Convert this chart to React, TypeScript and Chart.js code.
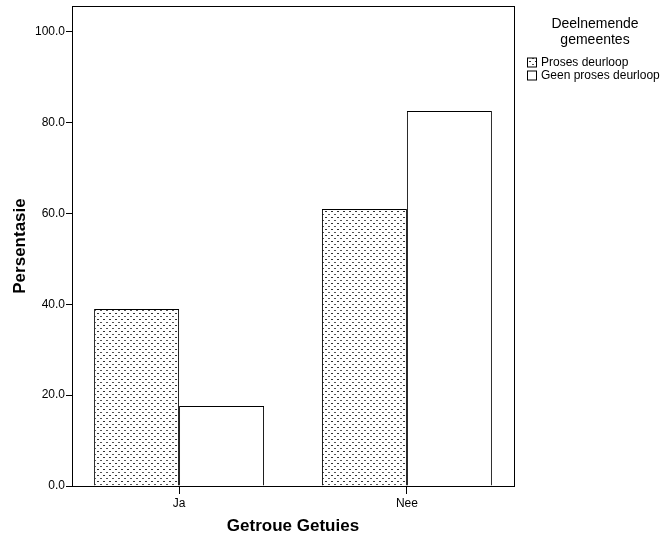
import React, { useEffect, useRef } from "react";
import { Chart, registerables } from "chart.js";

Chart.register(...registerables);

const categories = ["Ja", "Nee"];
const seriesNames = ["Proses deurloop", "Geen proses deurloop"];
const prosesDeurloop = [39.0, 61.0];
const geenProsesDeurloop = [17.6, 82.6];
const yTicks = [0, 20, 40, 60, 80, 100];
const legendTitle = ["Deelnemende", "gemeentes"];
const xTitle = "Getroue Getuies";
const yTitle = "Persentasie";

const FONT = "'Liberation Sans', Arial, sans-serif";

function makeDots(): CanvasPattern | string {
  const c = document.createElement("canvas");
  c.width = 6;
  c.height = 6;
  const g = c.getContext("2d");
  if (!g) return "#fff";
  g.fillStyle = "#fff";
  g.fillRect(0, 0, 6, 6);
  g.fillStyle = "#333";
  g.fillRect(1, 1, 2, 1);
  g.fillStyle = "#555";
  g.fillRect(4, 4, 2, 1);
  return g.createPattern(c, "repeat") || "#fff";
}

const framePlugin = {
  id: "frame",
  afterDatasetsDraw(chart: any) {
    const { ctx, chartArea } = chart;
    ctx.save();
    ctx.strokeStyle = "#000";
    ctx.lineWidth = 1;
    ctx.strokeRect(
      Math.round(chartArea.left) + 0.5,
      Math.round(chartArea.top) + 0.5,
      Math.round(chartArea.right - chartArea.left),
      Math.round(chartArea.bottom - chartArea.top)
    );
    ctx.restore();
  },
};

const legendPlugin = {
  id: "customLegend",
  afterDraw(chart: any) {
    const { ctx } = chart;
    ctx.save();
    ctx.fillStyle = "#000";
    ctx.textAlign = "center";
    ctx.textBaseline = "middle";
    ctx.font = `14px ${FONT}`;
    legendTitle.forEach((t, i) => ctx.fillText(t, 595, 24 + i * 16));
    ctx.font = `12px ${FONT}`;
    ctx.textAlign = "left";
    chart.data.datasets.forEach((ds: any, i: number) => {
      const cy = 62 + i * 13;
      ctx.fillStyle = ds.backgroundColor;
      ctx.fillRect(527, cy - 4.5, 9, 9);
      ctx.strokeStyle = "#000";
      ctx.lineWidth = 1;
      ctx.strokeRect(527.5, cy - 4, 9, 9);
      ctx.fillStyle = "#000";
      ctx.fillText(ds.label, 541, cy + 0.5);
    });
    ctx.restore();
  },
};

export default function App() {
  const ref = useRef<HTMLCanvasElement | null>(null);

  useEffect(() => {
    if (!ref.current) return;
    const dots = makeDots();
    const chart = new Chart(ref.current, {
      type: "bar",
      data: {
        datasets: [
          {
            label: seriesNames[0],
            data: categories.map((_, i) => ({ x: i, y: prosesDeurloop[i] })),
            backgroundColor: dots as any,
            borderColor: "#000",
            borderWidth: 1,
          },
          {
            label: seriesNames[1],
            data: categories.map((_, i) => ({ x: i, y: geenProsesDeurloop[i] })),
            backgroundColor: "#fff",
            borderColor: "#000",
            borderWidth: 1,
          },
        ],
      },
      options: {
        responsive: false,
        animation: false,
        devicePixelRatio: 1,
        layout: { padding: { top: 6, right: 149, left: 0, bottom: 0 } },
        datasets: {
          bar: { categoryPercentage: 0.746, barPercentage: 1, grouped: true },
        },
        plugins: {
          legend: { display: false },
          tooltip: { enabled: false },
        },
        scales: {
          x: {
            type: "linear",
            offset: false,
            min: -0.47,
            max: 1.47,
            afterBuildTicks: (scale: any) => {
              scale.ticks = categories.map((_, i) => ({ value: i }));
            },
            afterFit: (scale: any) => {
              scale.height = 53;
              scale.paddingLeft = 0;
              scale.paddingRight = 0;
            },
            ticks: {
              autoSkip: false,
              maxRotation: 0,
              padding: 2,
              color: "#000",
              font: { family: FONT, size: 12 },
              callback: (v: any) => categories[Math.round(Number(v))] ?? "",
            },
            grid: {
              offset: false,
              drawOnChartArea: false,
              drawTicks: true,
              tickLength: 8,
              color: "#000",
            },
            border: { display: true, color: "#000", width: 1 },
            title: {
              display: true,
              text: xTitle,
              color: "#000",
              font: { family: FONT, size: 17, weight: "bold" },
              padding: { top: 0, bottom: 2 },
            },
          },
          y: {
            type: "linear",
            min: 0,
            max: 105.7,
            afterBuildTicks: (scale: any) => {
              scale.ticks = yTicks.map((v) => ({ value: v }));
            },
            afterFit: (scale: any) => {
              scale.width = 72;
              scale.paddingTop = 0;
              scale.paddingBottom = 0;
            },
            ticks: {
              padding: 1,
              color: "#000",
              font: { family: FONT, size: 12 },
              callback: (v: any) => Number(v).toFixed(1),
            },
            grid: {
              drawOnChartArea: false,
              drawTicks: true,
              tickLength: 6,
              color: "#000",
            },
            border: { display: true, color: "#000", width: 1 },
            title: {
              display: true,
              text: yTitle,
              color: "#000",
              font: { family: FONT, size: 17, weight: "bold" },
              padding: { top: 10, bottom: 0 },
            },
          },
        },
      },
      plugins: [framePlugin, legendPlugin],
    });
    return () => chart.destroy();
  }, []);

  return (
    <div style={{ position: "fixed", left: 0, top: 0, width: 663, height: 539, background: "#fff" }}>
      <canvas ref={ref} width={663} height={539} />
    </div>
  );
}
